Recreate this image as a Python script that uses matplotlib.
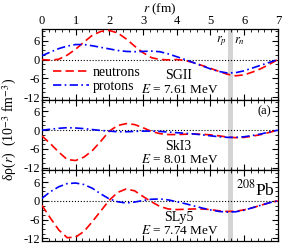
import numpy as np
import matplotlib
matplotlib.use('Agg')
import matplotlib.pyplot as plt
from matplotlib.ticker import MultipleLocator

plt.rcParams['font.family'] = ['Liberation Serif', 'DejaVu Serif']
plt.rcParams['mathtext.fontset'] = 'stix'
plt.rcParams['axes.unicode_minus'] = False

# radial grid (fm)
r = np.arange(0, 7.01, 0.25)

# SGII, E = 7.61 MeV
sgii_n = [0.0, -0.2, 0.1, 1.4, 3.3, 5.6, 7.8, 9.0, 9.3, 8.5, 6.6, 4.3, 2.2, 0.6, 0.0,
          -0.1, 0.0, -0.3, -1.0, -1.9, -2.8, -3.8, -4.7, -5.2, -4.9, -4.0, -2.9, -1.5, 0.0]
sgii_p = [1.2, 2.4, 3.5, 4.3, 4.8, 4.8, 4.4, 3.9, 3.4, 2.9, 2.6, 2.5, 2.6, 2.7, 2.5,
          1.8, 0.9, 0.0, -1.0, -2.0, -3.0, -3.8, -4.3, -4.2, -3.6, -2.7, -1.8, -0.9, 0.0]

# SkI3, E = 8.01 MeV
ski3_n = [-1.8, -4.3, -7.0, -9.4, -9.7, -8.6, -6.5, -3.5, -0.3, 1.5, 2.1, 1.8, 0.8, -0.4, -1.1,
          -1.4, -1.4, -1.3, -1.2, -1.3, -1.5, -1.8, -2.2, -2.4, -2.3, -1.9, -1.4, -0.7, 0.0]
ski3_p = [0.0, 0.3, 0.6, 0.8, 0.7, 0.5, 0.2, -0.1, -0.3, -0.5, -0.5, -0.4, -0.3, -0.3, -0.4,
          -0.6, -0.8, -1.0, -1.2, -1.5, -1.8, -2.1, -2.3, -2.3, -2.1, -1.7, -1.2, -0.6, 0.0]

# SLy5, E = 7.74 MeV
sly5_n = [-1.4, -5.5, -9.3, -11.8, -11.6, -9.8, -6.6, -3.2, 0.2, 2.7, 3.8, 3.2, 1.4, -0.3, -1.8,
          -2.6, -2.8, -2.7, -2.6, -2.6, -2.8, -3.2, -3.4, -3.3, -2.9, -2.2, -1.4, -0.6, 0.0]
sly5_p = [0.8, 2.9, 4.5, 5.5, 5.7, 5.2, 4.0, 2.2, 0.6, -0.3, -0.7, -0.4, 0.1, 0.5, 0.6,
          0.3, -0.3, -0.9, -1.6, -2.3, -2.9, -3.4, -3.6, -3.5, -3.0, -2.2, -1.4, -0.6, 0.0]

forces = ['SGII', 'SkI3', 'SLy5']
energies = ['7.61', '8.01', '7.74']
neutrons = [sgii_n, ski3_n, sly5_n]
protons = [sgii_p, ski3_p, sly5_p]

r_p, r_n = 5.52, 5.66

fig = plt.figure(figsize=(2.85, 2.45), dpi=100)
gs = fig.add_gridspec(3, 1, left=0.147, right=0.975, top=0.882, bottom=0.017, hspace=0)

for i in range(3):
    ax = fig.add_subplot(gs[i])
    ax.axvspan(r_p, r_n, color='#d4d4d4', lw=0, zorder=0)
    ax.axhline(0, color='k', ls=':', lw=0.8, zorder=1)
    ax.plot(r, neutrons[i], color='red', ls=(0, (5, 2.5)), lw=1.2, label='neutrons', zorder=3)
    ax.plot(r, protons[i], color='blue', ls=(0, (5, 2, 1, 2)), lw=1.2, label='protons', zorder=3)
    ax.set_xlim(0, 7)
    ax.set_ylim(-12.8, 9.8)
    ax.set_yticks([-12, -6, 0, 6])
    ax.xaxis.set_major_locator(MultipleLocator(1))
    ax.xaxis.set_minor_locator(MultipleLocator(0.2))
    ax.yaxis.set_minor_locator(MultipleLocator(1.5))
    ax.tick_params(which='both', direction='in', top=True, right=True,
                   labelbottom=False, labelsize=9, pad=1.5)
    ax.tick_params(which='major', length=4, width=0.8)
    ax.tick_params(which='minor', length=2, width=0.6)
    for s in ax.spines.values():
        s.set_linewidth(0.9)

    ax.text(4.05, -5.2, forces[i], fontsize=10, ha='center', va='center')
    ax.text(4.1, -9.5, '$E$ = ' + energies[i] + ' MeV', fontsize=9.5, ha='center', va='center')

    if i == 0:
        ax.tick_params(labeltop=True)
        ax.xaxis.set_label_position('top')
        ax.set_xlabel('$r$ (fm)', fontsize=9.5, labelpad=2)
        ax.legend(loc='upper left', bbox_to_anchor=(0.045, 0.47), frameon=False,
                  fontsize=10, handlelength=2.6, handletextpad=0.3, labelspacing=0.05,
                  borderpad=0, borderaxespad=0)
        ax.text(r_p - 0.03, 8.0, '$r_p$', fontsize=9, ha='right', va='top')
        ax.text(r_n + 0.05, 8.0, '$r_n$', fontsize=9, ha='left', va='top')
    if i == 1:
        ax.text(6.6, 5.9, '(a)', fontsize=9, ha='center', va='center')
    if i == 2:
        ax.text(6.35, 3.5, '$^{208}$Pb', fontsize=12.5, ha='center', va='center')

fig.text(0.035, 0.47, 'δρ($r$)  (10$^{-3}$ fm$^{-3}$)', rotation=90,
         fontsize=10, ha='center', va='center')

fig.savefig('out.png', dpi=100)
